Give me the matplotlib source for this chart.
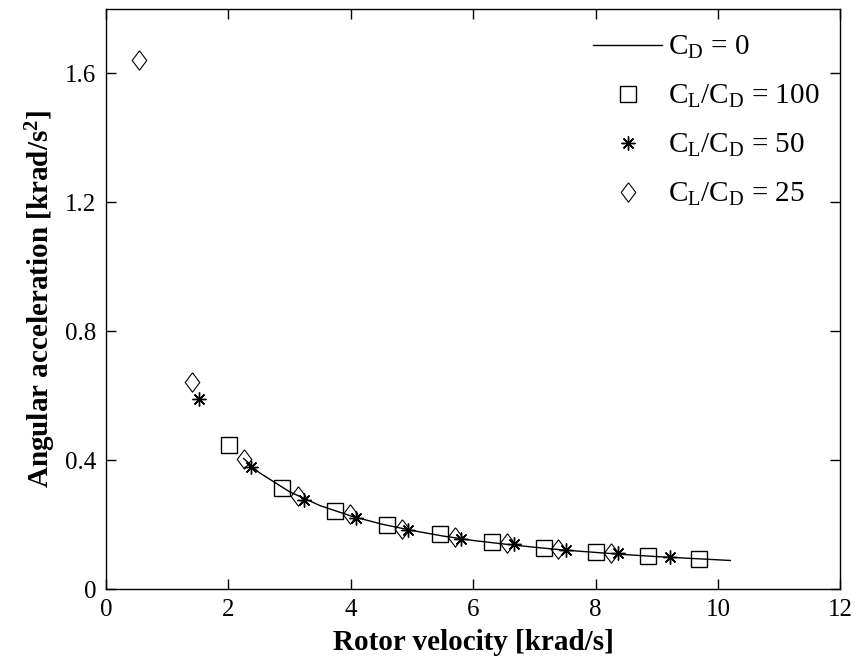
import matplotlib
matplotlib.use('Agg')
from matplotlib import pyplot as plt

plt.rcParams['font.family'] = ['Liberation Serif', 'DejaVu Serif']
plt.rcParams['mathtext.fontset'] = 'custom'
plt.rcParams['mathtext.rm'] = 'Liberation Serif'
plt.rcParams['mathtext.it'] = 'Liberation Serif'
plt.rcParams['mathtext.bf'] = 'Liberation Serif:bold'

# C_D = 0 curve
line_x = [2.25, 2.5, 3.0, 3.5, 4.0, 4.5, 5.0, 5.5, 6.0, 6.5, 7.0, 7.5, 8.0, 8.5, 9.0, 9.5, 10.2]
line_y = [0.405, 0.362, 0.302, 0.259, 0.227, 0.202, 0.182, 0.165, 0.151, 0.140, 0.130, 0.121, 0.114, 0.107, 0.101, 0.096, 0.089]

# C_L/C_D = 100
sq_x = [2.01, 2.875, 3.74, 4.59, 5.45, 6.31, 7.15, 8.00, 8.86, 9.69]
sq_y = [0.447, 0.314, 0.242, 0.198, 0.170, 0.147, 0.129, 0.116, 0.104, 0.094]

# C_L/C_D = 50
st_x = [1.52, 2.37, 3.23, 4.09, 4.93, 5.80, 6.67, 7.51, 8.36, 9.22]
st_y = [0.589, 0.379, 0.278, 0.222, 0.183, 0.156, 0.139, 0.121, 0.113, 0.100]

# C_L/C_D = 25
di_x = [0.545, 1.40, 2.26, 3.13, 3.99, 4.84, 5.70, 6.56, 7.39, 8.25]
di_y = [1.64, 0.643, 0.405, 0.288, 0.232, 0.188, 0.162, 0.142, 0.124, 0.113]

# matlab-style diamond (a bit wider than 'd')
diamond = [(0, 1), (0.75, 0), (0, -1), (-0.75, 0), (0, 1)]

fig = plt.figure(figsize=(8.58, 6.62), dpi=100)
ax = fig.add_axes([0.1235, 0.110, 0.856, 0.877])

ax.plot(line_x, line_y, color='black', lw=1.0, label=r'$\mathrm{C_D}$ = 0')
ax.plot(sq_x, sq_y, ls='none', marker='s', ms=11, mfc='none', mec='black', mew=1.0,
        label=r'$\mathrm{C_L/C_D}$ = 100')
ax.plot(st_x, st_y, ls='none', marker=(8, 2, 0), ms=10, mec='black', mew=1.0,
        label=r'$\mathrm{C_L/C_D}$ = 50')
ax.plot(di_x, di_y, ls='none', marker=diamond, ms=14, mfc='none', mec='black', mew=0.8,
        label=r'$\mathrm{C_L/C_D}$ = 25')

ax.set_xlim(0, 12)
ax.set_ylim(0, 1.8)
ax.set_xticks([0, 2, 4, 6, 8, 10, 12])
ax.set_yticks([0, 0.4, 0.8, 1.2, 1.6])
ax.set_yticklabels(['0', '0.4', '0.8', '1.2', '1.6'])
ax.tick_params(direction='in', top=True, right=True, labelsize=18, length=7, width=1, pad=7)
for s in ax.spines.values():
    s.set_linewidth(1.0)

ax.set_xlabel('Rotor velocity [krad/s]', fontsize=21, fontweight='bold', labelpad=6)
ax.set_ylabel(r'Angular acceleration [krad/s$\mathbf{^2}$]', fontsize=21, fontweight='bold', labelpad=5)

leg = ax.legend(loc='upper right', bbox_to_anchor=(1.011, 1.007), frameon=False, fontsize=21,
                handlelength=2.35, labelspacing=0.75, handletextpad=0.2, borderaxespad=0.6)

fig.savefig('out.png', dpi=100)
